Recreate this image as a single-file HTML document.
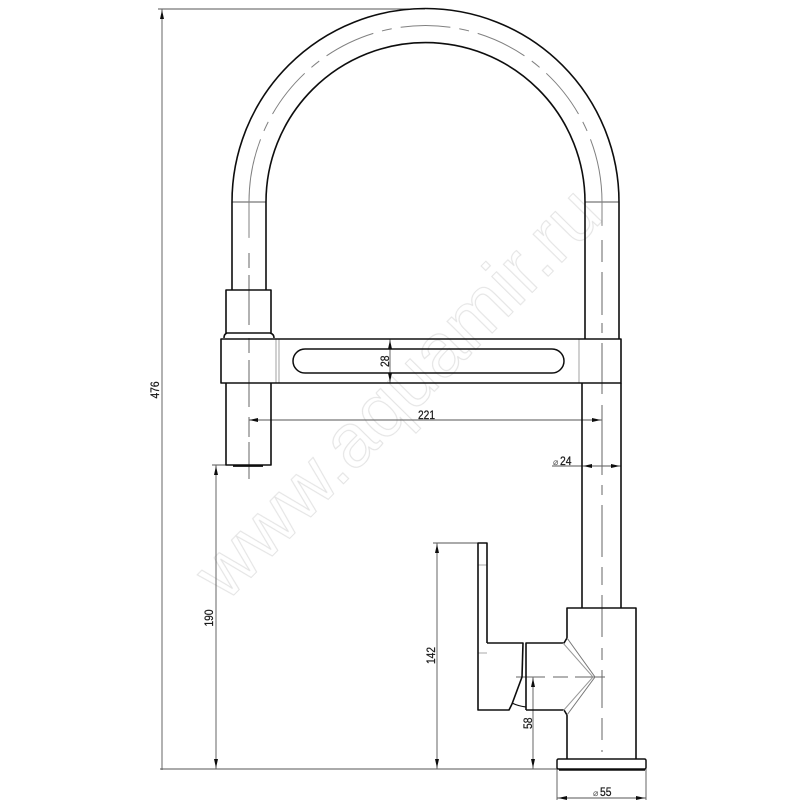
<!DOCTYPE html>
<html><head><meta charset="utf-8"><style>html,body{margin:0;padding:0;background:#fff}svg{display:block}text{font-family:"Liberation Sans",Arial,sans-serif}</style></head><body>
<svg width="800" height="800" viewBox="0 0 800 800" xmlns="http://www.w3.org/2000/svg">
<defs><filter id="b" x="-5%" y="-5%" width="110%" height="110%"><feGaussianBlur stdDeviation="0.3"/></filter></defs>
<text x="0" y="0" transform="translate(226,603) rotate(-45.4)" font-size="76" fill="#fff" stroke="#e4e4e4" stroke-width="1.1" filter="url(#b)">www.aquamir.ru</text>
<g filter="url(#b)">
<!-- thin lines -->
<g fill="none" stroke="#555" stroke-width="0.9">
<path d="M158 9H425M162 9V770M160 769H557"/>
<path d="M212 465H226M216 465V769"/>
<path d="M433 543H478M437 543V769"/>
<path d="M533 677V769"/>
<path d="M557 769V800M646 769V800M557 798H646"/>
<path d="M552 466H621"/>
<path d="M249 420H602"/>
<path d="M390 339V383"/>
<path d="M232 202H266M585 202H619"/>
<path d="M276 339V383M279 339V383M579 339V383" stroke="#999"/>
<path d="M478 565H487M478 653H487" stroke="#aaa"/>
</g>
<!-- center lines -->
<g fill="none" stroke="#666" stroke-width="1">
<path d="M425.500 25.500A176.500 176.500 0 0 1 602 202V231" stroke-dasharray="25 9 10 9 52 9 10 9 52 9 10 9 88" stroke="#808080"/>
<path d="M425.500 25.500A176.500 176.500 0 0 0 249 202V243" stroke-dasharray="25 9 10 9 52 9 10 9 52 9 10 9 100" stroke="#808080"/>
<path d="M249 253V268M249 275V325M249 338V353M249 360V407M249 417V437M249 442V479"/>
<path d="M602 240V262M602 272V315M602 323V333M602 343V394M602 405V475M602 485V495M602 505V557M602 567V585M602 595V637M602 648V660M602 670V708M602 718V740M602 750V752"/>
<path d="M516 677H545M553 677H568M575 677H605"/>
</g>
<!-- main outlines -->
<g fill="none" stroke="#111" stroke-width="1.600" stroke-linejoin="round">
<path d="M232 290V202A193.500 193.500 0 0 1 619 202V339"/>
<path d="M266 290V202A159.500 159.500 0 0 1 585 202V339"/>
<path d="M226 333V290H271V333"/>
<path d="M224 338Q224 334 227 333H270Q274 334 274 338"/>
<path d="M221 339H621V383H221Z"/>
<path d="M226 383V465H271V383"/>
<path d="M233 466H263" stroke-width="1.800"/>
<path d="M305 349H552A12 12 0 0 1 552 373H305A12 12 0 0 1 305 349Z" stroke-width="1.500"/>
<path d="M582 383V608"/>
<path d="M621 383V608"/>
<path d="M567 638V608H636V759"/>
<path d="M567 715V759"/>
<path d="M487 643V543H478V710H509L512 704L522 677L523 643H487"/>
<path d="M526 710V643H564L567 638"/>
<path d="M526 710H564L567 715"/>
<path d="M512 703Q518 706 526 707" stroke-width="1.200"/>
<rect x="557" y="759" width="89" height="10" rx="1.500" stroke-width="1.500"/>
<path d="M559 770H645" stroke-width="1.600"/>
</g>
<g fill="none" stroke="#777" stroke-width="1">
<path d="M567 638L595 677L567 715"/>
<path d="M563 643L593 677L563 711" stroke="#999"/>
</g>
<!-- arrowheads -->
<g fill="#111">
<path d="M162 10l-2 9h4z"/>
<path d="M216 466l-2 9h4z"/><path d="M216 768l-2-9h4z"/>
<path d="M437 544l-2 9h4z"/><path d="M437 768l-2-9h4z"/>
<path d="M533 678l-2 9h4z"/><path d="M533 768l-2-9h4z"/>
<path d="M390 340l-2 9h4z"/><path d="M390 382l-2-9h4z"/>
<path d="M249 420l9-2v4z"/><path d="M601 420l-9-2v4z"/>
<path d="M583 466l9-2v4z"/><path d="M620 466l-9-2v4z"/>
<path d="M558 798l9-2v4z"/><path d="M645 798l-9-2v4z"/>
</g>
</g>
<!-- labels -->
<g fill="#1a1a1a" stroke="#1a1a1a" stroke-width="0.25" font-size="12">
<text x="418" y="419" textLength="17" lengthAdjust="spacingAndGlyphs">221</text>
<text x="560" y="465" textLength="11.500" lengthAdjust="spacingAndGlyphs">24</text>
<text x="553" y="465" font-size="9" fill="#555" stroke="none">⌀</text>
<text x="593" y="796" font-size="9" fill="#555" stroke="none">⌀</text>
<text x="600" y="796" textLength="11.500" lengthAdjust="spacingAndGlyphs">55</text>
<text transform="translate(159,398.500) rotate(-90)" textLength="17" lengthAdjust="spacingAndGlyphs">476</text>
<text transform="translate(213,626.500) rotate(-90)" textLength="17" lengthAdjust="spacingAndGlyphs">190</text>
<text transform="translate(435,664) rotate(-90)" textLength="17" lengthAdjust="spacingAndGlyphs">142</text>
<text transform="translate(532,729) rotate(-90)" textLength="11.500" lengthAdjust="spacingAndGlyphs">58</text>
<text transform="translate(389,367) rotate(-90)" textLength="11.500" lengthAdjust="spacingAndGlyphs">28</text>
</g>
</svg>
</body></html>
